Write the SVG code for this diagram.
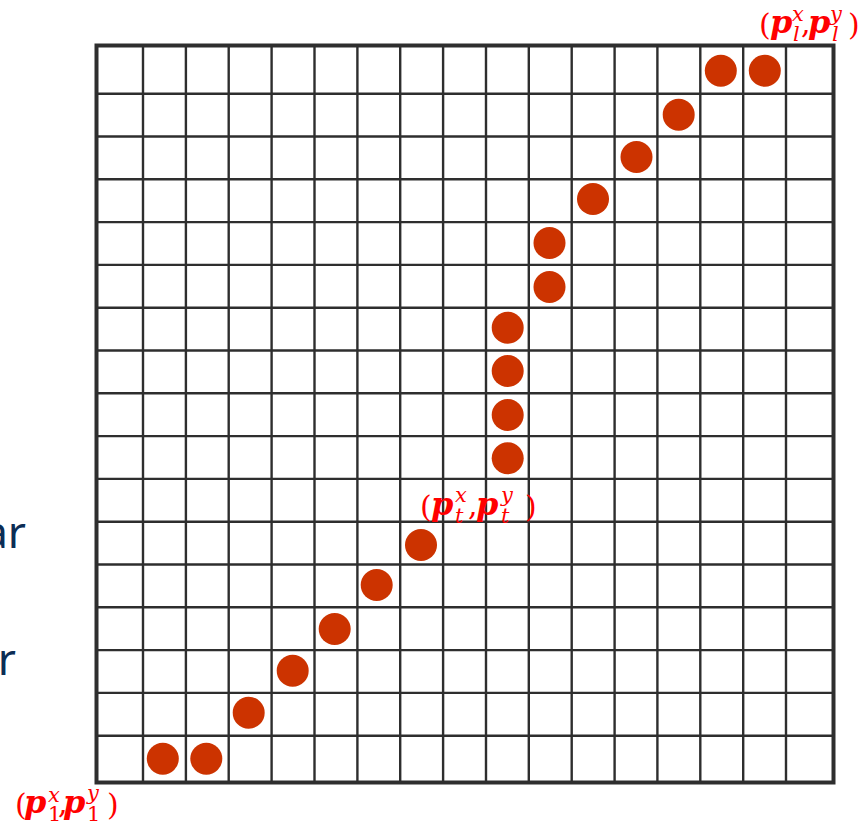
<svg xmlns="http://www.w3.org/2000/svg" width="866" height="823" viewBox="0 0 866 823">
<style>
.grid line{stroke:#2e2e2e;stroke-width:2.4}
.border{fill:none;stroke:#2e2e2e;stroke-width:4}
.pt{fill:#cc3300}
.side{font-family:"Noto Sans","Open Sans",sans-serif;font-size:44px;fill:#0c2d55;text-anchor:end}
.lab text{font-family:"DejaVu Serif","Liberation Serif",serif;fill:#ff0000}
.par{font-size:30px}
.p{font-size:32px;font-weight:bold;font-style:italic}
.s{font-size:21px;font-style:italic}
.n{font-size:21px}
</style>
<rect width="866" height="823" fill="#ffffff"/>
<text class="side" x="26" y="548">ar</text>
<text class="side" x="16" y="675">r</text>
<g id="grid" class="grid">
<line x1="143" y1="46" x2="143" y2="782"/>
<line x1="185.9" y1="46" x2="185.9" y2="782"/>
<line x1="228.7" y1="46" x2="228.7" y2="782"/>
<line x1="271.6" y1="46" x2="271.6" y2="782"/>
<line x1="314.5" y1="46" x2="314.5" y2="782"/>
<line x1="357.4" y1="46" x2="357.4" y2="782"/>
<line x1="400.2" y1="46" x2="400.2" y2="782"/>
<line x1="443.1" y1="46" x2="443.1" y2="782"/>
<line x1="486" y1="46" x2="486" y2="782"/>
<line x1="528.8" y1="46" x2="528.8" y2="782"/>
<line x1="571.7" y1="46" x2="571.7" y2="782"/>
<line x1="614.6" y1="46" x2="614.6" y2="782"/>
<line x1="657.4" y1="46" x2="657.4" y2="782"/>
<line x1="700.3" y1="46" x2="700.3" y2="782"/>
<line x1="743.2" y1="46" x2="743.2" y2="782"/>
<line x1="786" y1="46" x2="786" y2="782"/>
<line x1="97" y1="93.7" x2="833" y2="93.7"/>
<line x1="97" y1="136.5" x2="833" y2="136.5"/>
<line x1="97" y1="179.3" x2="833" y2="179.3"/>
<line x1="97" y1="222.1" x2="833" y2="222.1"/>
<line x1="97" y1="264.9" x2="833" y2="264.9"/>
<line x1="97" y1="307.7" x2="833" y2="307.7"/>
<line x1="97" y1="350.5" x2="833" y2="350.5"/>
<line x1="97" y1="393.3" x2="833" y2="393.3"/>
<line x1="97" y1="436.1" x2="833" y2="436.1"/>
<line x1="97" y1="478.9" x2="833" y2="478.9"/>
<line x1="97" y1="521.7" x2="833" y2="521.7"/>
<line x1="97" y1="564.5" x2="833" y2="564.5"/>
<line x1="97" y1="607.3" x2="833" y2="607.3"/>
<line x1="97" y1="650.1" x2="833" y2="650.1"/>
<line x1="97" y1="692.9" x2="833" y2="692.9"/>
<line x1="97" y1="735.7" x2="833" y2="735.7"/>
<rect class="border" x="96.5" y="45.5" width="737" height="737"/>
</g>
<g id="points">
<circle class="pt" cx="162.8" cy="758.8" r="16"/>
<circle class="pt" cx="206.3" cy="758.8" r="16"/>
<circle class="pt" cx="248.7" cy="712.7" r="16"/>
<circle class="pt" cx="292.7" cy="670.7" r="16"/>
<circle class="pt" cx="334.7" cy="629" r="16"/>
<circle class="pt" cx="376.7" cy="585" r="16"/>
<circle class="pt" cx="421" cy="545" r="16"/>
<circle class="pt" cx="507.7" cy="458.3" r="16"/>
<circle class="pt" cx="507.7" cy="415" r="16"/>
<circle class="pt" cx="507.7" cy="371" r="16"/>
<circle class="pt" cx="507.7" cy="327.7" r="16"/>
<circle class="pt" cx="549.5" cy="287" r="16"/>
<circle class="pt" cx="549.5" cy="243" r="16"/>
<circle class="pt" cx="593" cy="199" r="16"/>
<circle class="pt" cx="636.5" cy="157" r="16"/>
<circle class="pt" cx="678.7" cy="114.8" r="16"/>
<circle class="pt" cx="720.8" cy="70.8" r="16"/>
<circle class="pt" cx="764.8" cy="70.8" r="16"/>
</g>
<g id="label-first" class="lab">
<text class="par" x="15" y="815">(</text>
<text class="p" x="24" y="813">p</text>
<text class="s" x="48" y="802">x</text>
<text class="n" x="48" y="821">1</text>
<text class="par" x="58" y="813">,</text>
<text class="p" x="63" y="813">p</text>
<text class="s" x="87" y="800">y</text>
<text class="n" x="87" y="821">1</text>
<text class="par" x="107" y="815">)</text>
</g>
<g id="label-t" class="lab">
<text class="par" x="420" y="517">(</text>
<text class="p" x="431" y="515">p</text>
<text class="s" x="455" y="502">x</text>
<text class="s" x="455" y="523">t</text>
<text class="par" x="468" y="515">,</text>
<text class="p" x="476" y="515">p</text>
<text class="s" x="501" y="502">y</text>
<text class="s" x="501" y="523">t</text>
<text class="par" x="525" y="517">)</text>
</g>
<g id="label-l" class="lab">
<text class="par" x="759" y="35">(</text>
<text class="p" x="770" y="33">p</text>
<text class="s" x="792" y="21">x</text>
<text class="s" x="793" y="41">l</text>
<text class="par" x="801" y="33">,</text>
<text class="p" x="808" y="33">p</text>
<text class="s" x="830" y="21">y</text>
<text class="s" x="832" y="41">l</text>
<text class="par" x="848" y="35">)</text>
</g>
</svg>
